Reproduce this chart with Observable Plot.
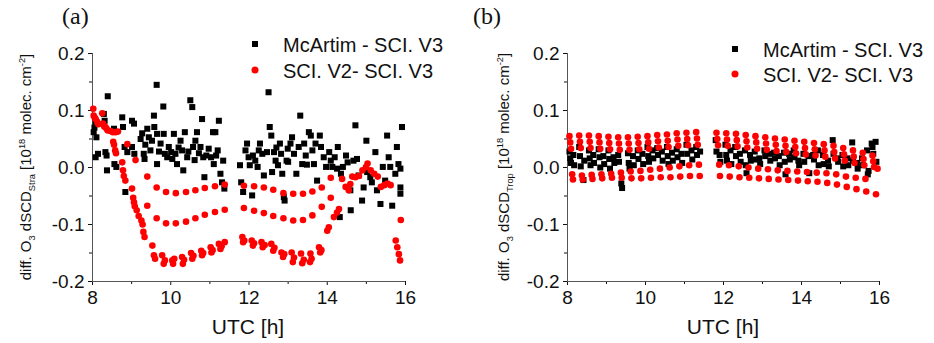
<!DOCTYPE html>
<html><head><meta charset="utf-8">
<script src="https://cdn.jsdelivr.net/npm/d3@7"></script>
<script src="https://cdn.jsdelivr.net/npm/@observablehq/plot@0.6"></script>
<style>
body{margin:0;background:#fff;}
#wrap{position:relative;width:934px;height:343px;font-family:"Liberation Sans",Arial,sans-serif;color:#111;overflow:hidden;}
.panel{position:absolute;top:0;}
.tag{position:absolute;top:4px;font-family:"Liberation Serif","Times New Roman",serif;font-size:24px;line-height:1;}
.ylab{position:absolute;font-size:15px;white-space:nowrap;transform:translate(-50%,-50%) rotate(-90deg);line-height:1;}
.ylab sub,.ylab sup{font-size:0.62em;line-height:0;}
.xlab{position:absolute;font-size:21px;transform:translate(-50%,-50%);white-space:nowrap;line-height:1;}
.leg{position:absolute;font-size:20px;line-height:1;white-space:nowrap;transform:translateY(-50%);}
.sq{position:absolute;width:6px;height:6px;background:#000;transform:translate(-50%,-50%);}
.ci{position:absolute;width:7px;height:7px;border-radius:50%;background:#f00;transform:translate(-50%,-50%);}
</style></head>
<body>
<div id="wrap"></div>
<script>
// ---- data ----
const seriesNames = ["McArtim - SCI. V3", "SCI. V2- SCI. V3"];
const panelTags = ["(a)", "(b)"];
const xTicks = [8, 10, 12, 14, 16];
const xMinorTicks = [9, 11, 13, 15];
const yTicks = [-0.2, -0.1, 0.0, 0.1, 0.2];
const yMinorTicks = [-0.15, -0.05, 0.05, 0.15];

// panel (a): stratospheric
const aMcArtim = [
[8.03,0.062],[8.05,0.070],[8.08,0.080],[8.10,0.053],[8.08,0.018],[8.14,0.024],[8.29,0.094],[8.31,0.082],[8.33,0.027],[8.36,0.021],[8.39,0.125],[8.37,-0.005],[8.55,0.068],[8.56,0.006],[8.61,0.001],[8.76,0.088],[8.78,0.071],[8.82,0.036],[8.84,-0.043],[8.89,0.027],[9.01,0.082],[9.06,0.077],[9.01,0.036],[9.07,0.024],[9.23,0.050],[9.27,0.060],[9.31,0.024],[9.33,0.015],[9.35,0.040],[9.40,0.068],[9.44,0.053],[9.48,0.030],[9.52,0.047],[9.57,0.091],[9.58,0.071],[9.64,0.145],[9.65,0.059],[9.65,0.006],[9.70,0.028],[9.74,0.042],[9.81,0.107],[9.82,0.059],[9.85,0.024],[9.91,0.018],[9.95,0.036],[10.01,0.027],[10.04,0.015],[10.08,0.059],[10.12,0.024],[10.16,0.006],[10.20,0.035],[10.25,0.047],[10.29,0.030],[10.32,-0.005],[10.36,0.062],[10.42,0.018],[10.45,0.028],[10.50,0.118],[10.55,0.106],[10.57,0.036],[10.61,0.013],[10.63,0.047],[10.67,0.062],[10.72,0.025],[10.76,0.036],[10.80,0.085],[10.83,0.018],[10.86,-0.017],[10.91,0.021],[10.97,0.033],[11.03,0.018],[11.08,0.062],[11.10,0.006],[11.14,0.062],[11.16,0.021],[11.20,0.030],[11.23,0.082],[11.27,-0.011],[11.31,-0.026],[11.34,0.012],[11.37,-0.037],
[11.77,0.004],[11.80,-0.026],[11.85,-0.043],[11.91,0.030],[11.95,0.042],[11.99,0.018],[12.02,0.004],[12.08,-0.049],[12.10,0.021],[12.16,0.012],[12.22,0.001],[12.25,0.030],[12.28,0.042],[12.34,0.024],[12.38,-0.014],[12.46,0.027],[12.50,0.132],[12.53,0.071],[12.57,0.056],[12.59,-0.008],[12.64,0.027],[12.68,0.012],[12.70,0.035],[12.74,0.004],[12.79,0.042],[12.82,0.024],[12.85,-0.011],[12.89,-0.052],[12.91,-0.058],[12.96,0.012],[12.99,0.033],[13.00,0.010],[13.06,0.042],[13.10,0.053],[13.15,0.024],[13.21,-0.011],[13.27,0.036],[13.31,0.091],[13.36,0.006],[13.41,0.042],[13.45,0.021],[13.48,0.005],[13.53,0.062],[13.58,0.056],[13.62,0.030],[13.66,0.006],[13.70,0.042],[13.74,-0.023],[13.81,0.056],[13.84,0.036],[13.91,0.018],[13.97,0.001],[14.05,0.027],[14.09,0.012],[14.13,0.001],[14.19,0.018],[14.25,-0.002],[14.27,0.036],[14.32,-0.087],[14.35,-0.011],[14.40,0.001],[14.48,0.021],[14.52,0.009],[14.59,-0.040],[14.60,-0.075],[14.67,0.012],[14.72,0.074],[14.76,0.015],[14.80,-0.014],[14.89,-0.058],[14.93,-0.035],[15.00,0.047],[15.02,-0.008],[15.10,-0.017],[15.14,-0.026],[15.23,0.027],[15.27,-0.040],[15.36,-0.064],[15.42,0.001],[15.48,-0.023],[15.53,0.056],[15.57,0.018],[15.61,0.001],[15.66,-0.067],[15.74,-0.011],[15.78,0.036],[15.82,0.006],[15.87,-0.046],[15.87,-0.035],[15.91,0.071],[15.87,-0.002]
];
const aSciV2 = [
[8.02,0.103],[8.03,0.091],[8.06,0.087],[8.08,0.085],[8.12,0.080],[8.15,0.076],[8.25,0.095],[8.27,0.077],[8.30,0.072],[8.33,0.071],[8.36,0.068],[8.39,0.065],[8.46,0.064],[8.52,0.062],[8.59,0.062],[8.65,0.063],[8.53,0.045],[8.55,0.040],[8.58,0.030],[8.60,0.025],[8.76,0.009],[8.78,-0.005],[8.80,-0.015],[8.84,-0.023],[8.89,0.041],[9.10,0.013],[9.01,-0.037],[9.04,-0.053],[9.06,-0.061],[9.08,-0.068],[9.13,-0.075],[9.18,-0.085],[9.25,-0.093],[9.28,-0.100],
[9.40,-0.016],[9.64,-0.035],[9.88,-0.043],[10.13,-0.045],[10.39,-0.043],[10.63,-0.040],[10.87,-0.036],[11.13,-0.033],[11.38,-0.030],[11.87,-0.032],[12.13,-0.033],[12.38,-0.035],[12.62,-0.039],[12.88,-0.045],[13.13,-0.046],[13.38,-0.046],[13.62,-0.042],[13.86,-0.035],[14.09,-0.018],
[9.40,-0.067],[9.64,-0.089],[9.88,-0.098],[10.13,-0.098],[10.39,-0.095],[10.63,-0.089],[10.87,-0.083],[11.13,-0.078],[11.38,-0.074],[11.87,-0.071],[12.13,-0.076],[12.38,-0.080],[12.62,-0.085],[12.88,-0.089],[13.13,-0.093],[13.38,-0.092],[13.62,-0.084],[13.86,-0.069],[14.09,-0.053],
[9.30,-0.113],[9.33,-0.122],[9.53,-0.137],[9.57,-0.154],[9.60,-0.160],[9.78,-0.154],[9.82,-0.169],[9.85,-0.163],[10.04,-0.163],[10.06,-0.169],[10.09,-0.160],[10.29,-0.157],[10.31,-0.169],[10.34,-0.162],[10.52,-0.150],[10.55,-0.160],[10.58,-0.155],[10.78,-0.146],[10.80,-0.154],[10.83,-0.150],[11.02,-0.140],[11.04,-0.149],[11.07,-0.145],[11.23,-0.134],[11.27,-0.143],[11.30,-0.138],[11.38,-0.131],
[11.83,-0.122],[11.85,-0.131],[11.88,-0.128],[12.07,-0.128],[12.10,-0.137],[12.13,-0.133],[12.32,-0.131],[12.35,-0.140],[12.40,-0.136],[12.57,-0.134],[12.62,-0.146],[12.65,-0.141],[12.83,-0.149],[12.87,-0.157],[12.90,-0.152],[13.09,-0.149],[13.12,-0.166],[13.15,-0.158],[13.33,-0.151],[13.36,-0.168],[13.40,-0.162],[13.57,-0.151],[13.56,-0.166],[13.60,-0.160],[13.79,-0.140],[13.82,-0.149],[13.85,-0.145],[14.00,-0.111],[14.04,-0.105],[14.17,-0.087],[14.25,-0.079],[14.30,-0.073],
[14.38,-0.020],[14.47,-0.034],[14.55,-0.040],[14.59,-0.029],[14.64,-0.016],[14.72,-0.017],[14.81,-0.015],[14.90,-0.005],[14.99,0.001],[15.03,0.007],[15.11,-0.005],[15.20,-0.011],[15.29,-0.016],[15.37,-0.034],[15.46,-0.031],[15.54,-0.028],[15.62,-0.031],[15.88,-0.092],[15.75,-0.128],[15.79,-0.140],[15.83,-0.152],[15.86,-0.163]
];

// panel (b): tropospheric
const bMcArtim = [
[8.05,0.028],[8.07,0.016],[8.09,0.008],[8.15,0.022],[8.17,0.004],[8.30,0.036],[8.32,0.020],[8.34,0.002],[8.41,-0.022],[8.43,0.012],[8.55,0.030],[8.57,0.016],[8.59,0.004],[8.66,0.022],[8.68,0.008],[8.80,0.032],[8.82,0.018],[8.84,0.000],[8.92,0.020],[8.94,0.006],[9.05,0.030],[9.07,0.015],[9.09,-0.002],[9.18,0.018],[9.20,0.008],[9.30,0.022],[9.32,0.010],[9.38,-0.028],[9.40,-0.036],[9.55,0.025],[9.57,0.008],[9.59,-0.002],[9.68,0.020],[9.70,0.004],[9.80,0.030],[9.82,0.015],[9.92,0.024],[9.94,0.006],[10.05,0.036],[10.07,0.020],[10.09,0.010],[10.18,0.030],[10.20,0.016],[10.30,0.034],[10.32,0.022],[10.42,0.028],[10.44,0.012],[10.55,0.036],[10.57,0.020],[10.59,0.006],[10.68,0.026],[10.70,0.012],[10.80,0.032],[10.82,0.018],[10.92,0.024],[10.94,0.008],[11.05,0.040],[11.07,0.024],[11.18,0.030],[11.20,0.014],[11.30,0.036],[11.32,0.022],[11.40,0.028],
[11.80,0.048],[11.82,0.028],[11.90,0.022],[11.92,0.010],[12.05,0.040],[12.07,0.022],[12.09,0.012],[12.18,0.030],[12.20,0.006],[12.30,0.036],[12.32,0.020],[12.42,0.024],[12.44,0.010],[12.55,0.030],[12.57,0.004],[12.59,-0.010],[12.68,0.022],[12.70,0.012],[12.80,0.028],[12.82,0.014],[12.92,0.016],[12.94,0.006],[13.05,0.030],[13.07,0.020],[13.18,0.024],[13.20,0.012],[13.30,0.026],[13.32,0.016],[13.42,0.020],[13.44,0.004],[13.55,0.026],[13.57,0.010],[13.59,-0.012],[13.68,0.024],[13.70,0.014],[13.80,0.030],[13.82,0.018],[13.92,0.012],[13.94,0.004],[14.05,0.024],[14.07,0.010],[14.18,0.020],[14.20,-0.010],[14.30,0.022],[14.32,0.014],[14.42,0.030],[14.44,0.004],[14.55,0.022],[14.57,0.006],[14.68,0.012],[14.70,0.002],[14.80,0.048],[14.82,0.024],[14.92,0.016],[14.94,0.010],[15.05,0.022],[15.07,0.002],[15.18,0.016],[15.20,0.004],[15.30,0.044],[15.32,0.012],[15.42,0.008],[15.44,-0.002],[15.55,0.016],[15.57,0.004],[15.68,0.030],[15.70,-0.012],[15.72,-0.006],[15.80,0.042],[15.82,0.036],[15.84,0.024],[15.90,0.045],[15.92,0.010]
];
const bSciV2 = [
[8.05,0.055],[8.30,0.056],[8.55,0.056],[8.80,0.055],[9.05,0.054],[9.30,0.053],[9.55,0.053],[9.80,0.054],[10.05,0.055],[10.30,0.057],[10.55,0.058],[10.80,0.060],[11.05,0.061],[11.30,0.062],[11.82,0.061],[12.07,0.060],[12.32,0.059],[12.57,0.057],[12.82,0.055],[13.07,0.053],[13.32,0.051],[13.57,0.049],[13.82,0.047],[14.07,0.045],[14.32,0.043],[14.57,0.041],[14.82,0.038],[15.07,0.034],[15.32,0.030],[15.57,0.026],[15.82,0.021],
[8.07,0.044],[8.32,0.045],[8.57,0.045],[8.82,0.044],[9.07,0.043],[9.32,0.042],[9.57,0.042],[9.82,0.043],[10.07,0.044],[10.32,0.046],[10.57,0.047],[10.82,0.049],[11.07,0.050],[11.32,0.051],[11.84,0.050],[12.09,0.049],[12.34,0.048],[12.59,0.046],[12.84,0.044],[13.09,0.042],[13.34,0.040],[13.59,0.038],[13.84,0.036],[14.09,0.034],[14.34,0.032],[14.59,0.030],[14.84,0.027],[15.09,0.023],[15.34,0.019],[15.59,0.015],[15.84,0.011],
[8.09,0.033],[8.34,0.034],[8.59,0.034],[8.84,0.033],[9.09,0.032],[9.34,0.031],[9.59,0.031],[9.84,0.032],[10.09,0.033],[10.34,0.035],[10.59,0.036],[10.84,0.038],[11.09,0.039],[11.34,0.040],[11.86,0.039],[12.11,0.038],[12.36,0.037],[12.61,0.035],[12.86,0.033],[13.11,0.031],[13.36,0.029],[13.61,0.027],[13.86,0.025],[14.11,0.023],[14.36,0.021],[14.61,0.019],[14.86,0.016],[15.11,0.012],[15.36,0.008],[15.61,0.004],[15.86,0.001],
[8.12,-0.012],[8.37,-0.014],[8.62,-0.013],[8.87,-0.012],[9.12,-0.011],[9.37,-0.009],[9.62,-0.007],[9.87,-0.006],[10.12,-0.004],[10.37,-0.002],[10.62,0.000],[10.87,0.002],[11.12,0.004],[11.37,0.005],[11.89,0.005],[12.14,0.004],[12.39,0.002],[12.64,0.000],[12.89,-0.002],[13.14,-0.003],[13.39,-0.005],[13.64,-0.006],[13.89,-0.007],[14.14,-0.008],[14.39,-0.009],[14.64,-0.010],[14.89,-0.012],[15.14,-0.016],[15.39,-0.018],[15.64,-0.020],[15.95,-0.002],
[8.14,-0.021],[8.39,-0.021],[8.64,-0.020],[8.89,-0.019],[9.14,-0.018],[9.39,-0.018],[9.64,-0.019],[9.89,-0.019],[10.14,-0.018],[10.39,-0.017],[10.64,-0.017],[10.89,-0.016],[11.14,-0.015],[11.39,-0.015],[11.91,-0.015],[12.16,-0.016],[12.41,-0.017],[12.66,-0.018],[12.91,-0.019],[13.16,-0.020],[13.41,-0.021],[13.66,-0.022],[13.91,-0.023],[14.16,-0.024],[14.41,-0.025],[14.66,-0.027],[14.91,-0.030],[15.16,-0.034],[15.41,-0.038],[15.66,-0.042],[15.91,-0.047]
];

const fmt = d => d.toFixed(1);

function panel(black, red, ml, mr) {
  return Plot.plot({
    width: 467, height: 343,
    marginLeft: ml, marginRight: mr, marginTop: 53, marginBottom: 62,
    x: {domain: [8, 16]},
    y: {domain: [-0.2, 0.2]},
    style: {fontFamily: "'Liberation Sans', Arial, sans-serif", fontSize: "19px", background: "transparent", color: "#111"},
    marks: [
      Plot.axisX(xTicks, {tickSize: 4, tickPadding: 5, tickFormat: d => String(d), label: null, fontSize: 19}),
      Plot.axisX(xMinorTicks, {tickSize: 3, tickFormat: () => "", label: null}),
      Plot.axisY(yTicks, {tickSize: 4, tickPadding: 4, tickFormat: fmt, label: null, fontSize: 19}),
      Plot.axisY(yMinorTicks, {tickSize: 3, tickFormat: () => "", label: null}),
      Plot.ruleX([8], {stroke: "#555", strokeWidth: 1}),
      Plot.ruleY([-0.2], {stroke: "#555", strokeWidth: 1}),
      Plot.dot(black, {x: d => d[0], y: d => d[1], symbol: "square", r: 3.4, fill: "#000", stroke: "none"}),
      Plot.dot(red, {x: d => d[0], y: d => d[1], r: 3.3, fill: "#ff0000", stroke: "none"})
    ]
  });
}

const wrap = document.getElementById("wrap");
const pa = panel(aMcArtim, aSciV2, 92, 62);
pa.classList.add("panel"); pa.style.left = "0px";
const pb = panel(bMcArtim, bSciV2, 100, 55);
pb.classList.add("panel"); pb.style.left = "467px";
wrap.appendChild(pa); wrap.appendChild(pb);

function addHTML(html) { wrap.insertAdjacentHTML("beforeend", html); }

const layout = [
  {tag: panelTags[0], tagX: 62, sub: "Stra", yl: 25, xl: 248, legSq: [255, 44], legCi: [255, 70], legX: 283, legY: [45, 71]},
  {tag: panelTags[1], tagX: 473, sub: "Trop", yl: 503, xl: 723, legSq: [735, 49], legCi: [735, 74], legX: 763, legY: [50, 75]}
];
for (const L of layout) {
  addHTML(`<div class="tag" style="left:${L.tagX}px">${L.tag}</div>`);
  addHTML(`<div class="ylab" style="left:${L.yl}px;top:167px">diff. O<sub>3</sub> dSCD<sub>${L.sub}</sub> [10<sup>18</sup> molec. cm<sup>-2</sup>]</div>`);
  addHTML(`<div class="xlab" style="left:${L.xl}px;top:326px">UTC [h]</div>`);
  addHTML(`<div class="sq" style="left:${L.legSq[0]}px;top:${L.legSq[1]}px"></div>`);
  addHTML(`<div class="ci" style="left:${L.legCi[0]}px;top:${L.legCi[1]}px"></div>`);
  addHTML(`<div class="leg" style="left:${L.legX}px;top:${L.legY[0]}px">${seriesNames[0]}</div>`);
  addHTML(`<div class="leg" style="left:${L.legX}px;top:${L.legY[1]}px">${seriesNames[1]}</div>`);
}
</script>
</body></html>
